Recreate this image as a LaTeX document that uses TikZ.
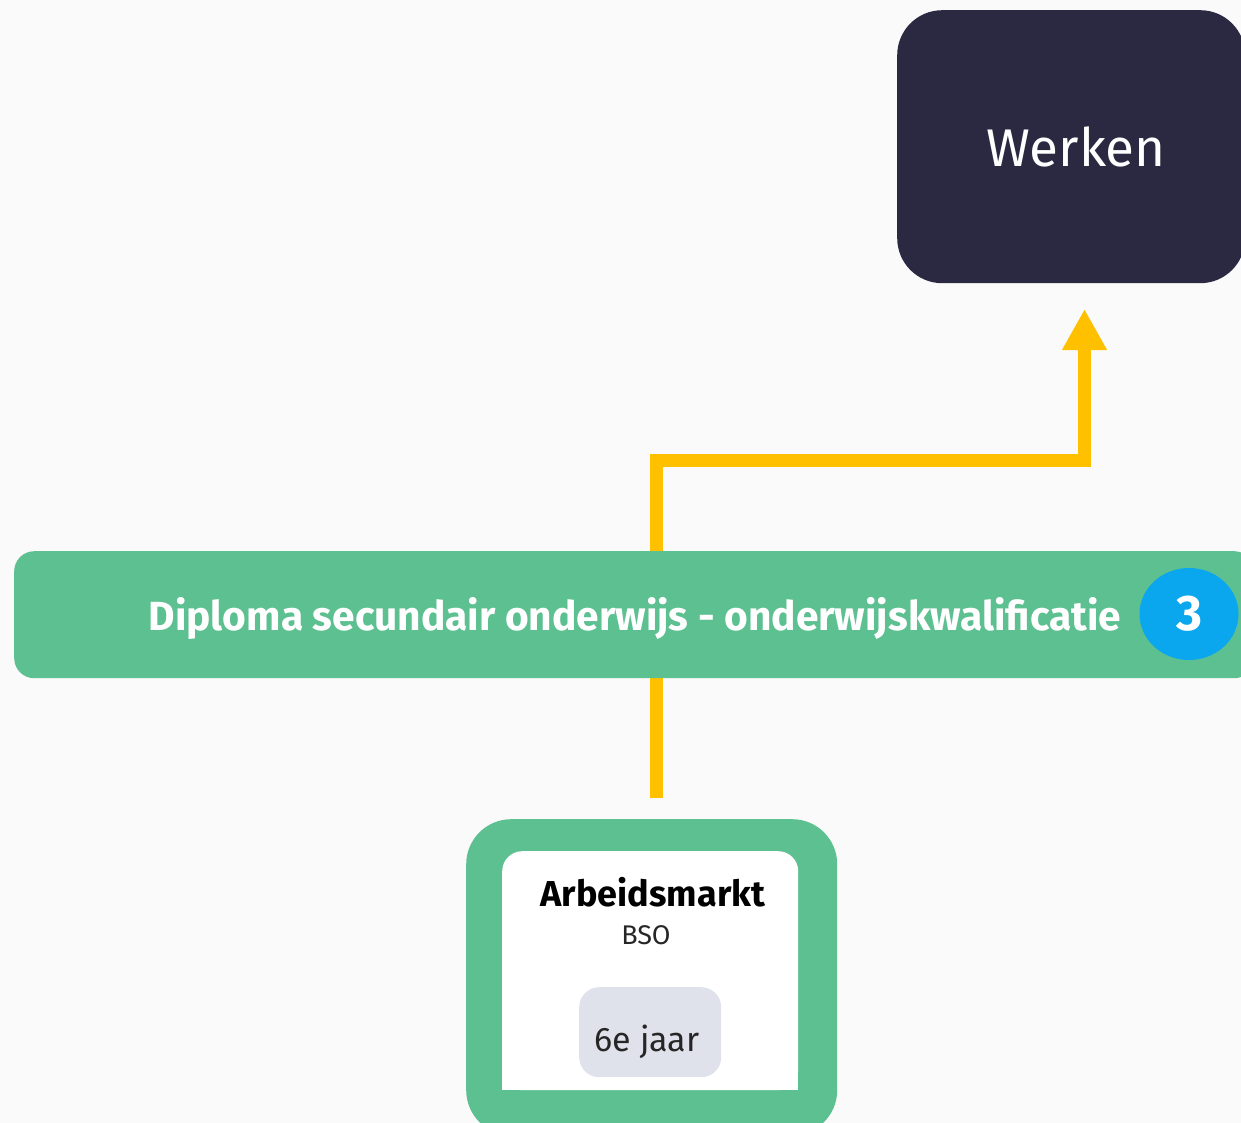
\documentclass[tikz,border=0pt]{standalone}
\usepackage{fontspec}
\setmainfont{Fira Sans}
\usetikzlibrary{arrows.meta,shapes.geometric}
\definecolor{bg}{HTML}{FAFAFA}
\definecolor{navy}{HTML}{2A2941}
\definecolor{grn}{HTML}{5DC091}
\definecolor{ylw}{HTML}{FFC000}
\definecolor{badgeblue}{HTML}{0AA6EE}
\definecolor{pill}{HTML}{DFE2EB}
\tikzset{
  werkbox/.style={rectangle, rounded corners=45pt, fill=navy, text=white, inner sep=0pt},
  band/.style={rectangle, rounded corners=20pt, fill=grn, inner sep=0pt},
  bandtext/.style={text=white, font=\bfseries\fontsize{40.7}{44}\selectfont, inner sep=0pt},
  badge/.style={ellipse, fill=badgeblue, text=white, font=\bfseries\fontsize{50}{54}\selectfont, inner sep=0pt, minimum width=99pt, minimum height=92pt},
  outerbox/.style={rectangle, rounded corners=45pt, fill=grn, inner sep=0pt},
  innerbox/.style={rectangle, rounded corners=20pt, fill=white, inner sep=0pt},
  pillbox/.style={rectangle, rounded corners=20pt, fill=pill, inner sep=0pt},
  yarrow/.style={draw=ylw, line width=13pt, line join=miter, -{Triangle[length=41pt,width=42pt]}},
}
\begin{document}
\begin{tikzpicture}[x=1pt,y=-1pt]
\useasboundingbox (0,0) rectangle (1241,1123);
\fill[bg] (0,0) rectangle (1241,1123);
\clip (0,0) rectangle (1241,1123);
% Werken
\node[werkbox, minimum width=348pt, minimum height=273pt, anchor=north west] (werken) at (897,10) {};
\node[text=white, font=\fontsize{53}{57}\selectfont, inner sep=0pt, anchor=base] (werkentxt) at (1076,167) {Werken};
% bottom box
\node[outerbox, minimum width=371pt, minimum height=316pt, anchor=north west] (arb) at (466,819) {};
\node[innerbox, minimum width=296pt, minimum height=239pt, anchor=north west] (arbin) at (502,851) {};
\fill[white] (502,1060) rectangle (798,1090);
\node[font=\bfseries\fontsize{36}{40}\selectfont, inner sep=0pt, anchor=base] (arbt) at (653,906) {Arbeidsmarkt};
\node[font=\fontsize{27}{30}\selectfont, inner sep=0pt, anchor=base, text=black!85] (bso) at (646,944) {BSO};
\node[pillbox, minimum width=142pt, minimum height=90pt, anchor=north west] (pillbox) at (579,987) {};
\node[font=\fontsize{34}{38}\selectfont, inner sep=0pt, anchor=base, text=black!85] (jaar) at (647,1051) {6e jaar};
% arrow
\coordinate (start) at ([xshift=5pt,yshift=21pt]arb.north);
\coordinate (turn) at (1084.5,460.5);
\coordinate (tip) at (1084.5,309);
\draw[yarrow] (start) |- (turn) -- (tip);
% band
\node[band, minimum width=1240pt, minimum height=127pt, anchor=north west] (band) at (14,551) {};
\node[bandtext, anchor=base] (bandt) at (635,630) {Diploma secundair onderwijs - onderwijskwalificatie};
\node[badge] (badge) at (1189,614) {3};
\end{tikzpicture}
\end{document}
